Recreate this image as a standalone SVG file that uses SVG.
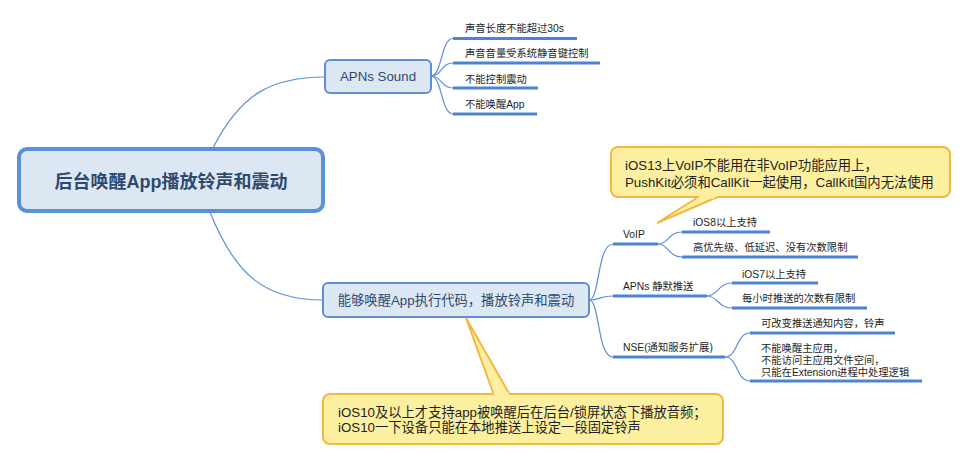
<svg xmlns="http://www.w3.org/2000/svg" width="967" height="461" viewBox="0 0 967 461">
<style>
text{font-family:"Liberation Sans","Noto Sans CJK SC",sans-serif;}
.box{fill:#dde7f3;stroke:#5b8fd8;stroke-width:2;}
.btxt{fill:#2d4a6f;font-size:13.3px;}
.leaf{fill:#1e1e1e;font-size:10.3px;}
.ul{stroke:#4d84d1;stroke-width:3;fill:none;}
.con{stroke:#5b8fd8;stroke-width:1.2;fill:none;}
.call{fill:#fcef9f;stroke:#f1b944;stroke-width:2;}
.ctxt{fill:#1e1e1e;font-size:13.3px;}
</style>
<rect width="967" height="461" fill="#ffffff"/>
<g id="connectors">
<path class="con" d="M213 148 C240 95 270 77 325 77"/>
<path class="con" d="M210 212 C235 275 265 300 323 300"/>
<path class="con" d="M431 76 C442 76 441 38.5 453 38.5"/>
<path class="con" d="M431 76 C442 76 441 63 453 63"/>
<path class="con" d="M431 76 C442 76 441 88 453 88"/>
<path class="con" d="M431 76 C442 76 441 114 453 114"/>
<path class="con" d="M589 300 C600 300 597 244 613 244"/>
<path class="con" d="M589 300 C600 300 600 296 613 296"/>
<path class="con" d="M589 300 C600 300 597 357 613 357"/>
<path class="con" d="M658 244 C669 244 668 232 682 232"/>
<path class="con" d="M658 244 C669 244 668 257 682 257"/>
<path class="con" d="M707 296 C718 296 718 283 732 283"/>
<path class="con" d="M707 296 C718 296 718 308 732 308"/>
<path class="con" d="M725 357 C738 357 736 333 750 333"/>
<path class="con" d="M725 357 C738 357 736 381 750 381"/>
</g>
<g id="root">
<rect x="19" y="149" width="304" height="62" rx="8" fill="#dde7f3" stroke="#5b8fd8" stroke-width="4"/>
<text x="171" y="188" text-anchor="middle" font-size="18" font-weight="bold" fill="#2d4a6f">后台唤醒App播放铃声和震动</text>
</g>
<g id="apns-sound">
<rect class="box" x="325" y="60" width="106" height="33" rx="5"/>
<text class="btxt" x="378" y="81" text-anchor="middle" font-size="13">APNs Sound</text>
</g>
<g id="leaf-30s"><text class="leaf" x="465" y="32">声音长度不能超过30s</text><line class="ul" x1="453" y1="38.5" x2="577" y2="38.5"/></g>
<g id="leaf-volume"><text class="leaf" x="465" y="57">声音音量受系统静音键控制</text><line class="ul" x1="453" y1="63" x2="600" y2="63"/></g>
<g id="leaf-vibrate"><text class="leaf" x="465" y="83">不能控制震动</text><line class="ul" x1="453" y1="88" x2="538" y2="88"/></g>
<g id="leaf-wake"><text class="leaf" x="465" y="108">不能唤醒App</text><line class="ul" x1="453" y1="114" x2="537" y2="114"/></g>
<g id="wake-exec">
<rect class="box" x="323" y="283" width="266" height="34" rx="5"/>
<text class="btxt" x="456" y="305" text-anchor="middle">能够唤醒App执行代码，播放铃声和震动</text>
</g>
<g id="voip"><text class="leaf" x="623" y="238">VoIP</text><line class="ul" x1="613" y1="244" x2="658" y2="244"/></g>
<g id="voip-ios8"><text class="leaf" x="693" y="226">iOS8以上支持</text><line class="ul" x1="682" y1="232" x2="770" y2="232"/></g>
<g id="voip-priority"><text class="leaf" x="693" y="251">高优先级、低延迟、没有次数限制</text><line class="ul" x1="682" y1="257" x2="858" y2="257"/></g>
<g id="apns-silent"><text class="leaf" x="623" y="290">APNs 静默推送</text><line class="ul" x1="613" y1="296" x2="707" y2="296"/></g>
<g id="silent-ios7"><text class="leaf" x="742" y="278">iOS7以上支持</text><line class="ul" x1="732" y1="283" x2="818" y2="283"/></g>
<g id="silent-limit"><text class="leaf" x="742" y="302">每小时推送的次数有限制</text><line class="ul" x1="732" y1="308" x2="867" y2="308"/></g>
<g id="nse"><text class="leaf" x="623" y="351">NSE(通知服务扩展)</text><line class="ul" x1="613" y1="357" x2="725" y2="357"/></g>
<g id="nse-modify"><text class="leaf" x="761" y="327">可改变推送通知内容，铃声</text><line class="ul" x1="750" y1="333" x2="895" y2="333"/></g>
<g id="nse-limits">
<text class="leaf" x="761" y="352">不能唤醒主应用，</text>
<text class="leaf" x="761" y="364">不能访问主应用文件空间，</text>
<text class="leaf" x="761" y="376">只能在Extension进程中处理逻辑</text>
<line class="ul" x1="750" y1="381" x2="922" y2="381"/>
</g>
<g id="callout-voip">
<path class="call" d="M700 196 L657 223 L720 196 Z"/>
<rect class="call" x="611" y="147" width="339" height="50" rx="7"/>
<polygon points="701.5,195 718,195 713,199 696,199" fill="#fcef9f"/>
<text class="ctxt" x="625" y="170">iOS13上VoIP不能用在非VoIP功能应用上，</text>
<text class="ctxt" x="625" y="187">PushKit必须和CallKit一起使用，CallKit国内无法使用</text>
</g>
<g id="callout-ios10">
<path class="call" d="M466 318 L494 395 L510 395 Z"/>
<rect class="call" x="323" y="394" width="400" height="50" rx="7"/>
<polygon points="493.5,392 508,392 510,397 494.5,397" fill="#fcef9f"/>
<text class="ctxt" x="338" y="417">iOS10及以上才支持app被唤醒后在后台/锁屏状态下播放音频；</text>
<text class="ctxt" x="338" y="432">iOS10一下设备只能在本地推送上设定一段固定铃声</text>
</g>
</svg>
